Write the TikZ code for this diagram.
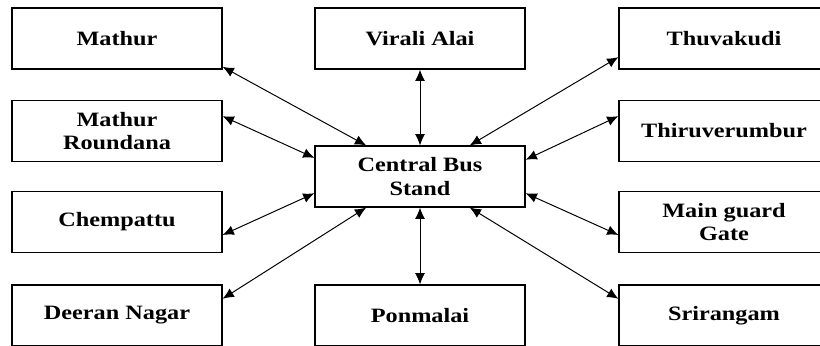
\documentclass[tikz,border=0pt]{standalone}
\usepackage{fontspec}
\newfontfamily\placefont{Liberation Serif}[FakeStretch=1.19]
\usetikzlibrary{arrows.meta}

\begin{document}
\begin{tikzpicture}[
        x=0.025cm, y=-0.025cm,
        >={Latex[length=8pt,width=7pt]},
        stop/.style={rectangle, draw, line width=0.8pt, minimum width=5.25cm, minimum height=1.525cm, align=center, inner sep=0pt, font=\placefont\bfseries\fontsize{14.5}{17}\selectfont},
        link/.style={<->, line width=0.7pt},
    ]
        \useasboundingbox (0,0) rectangle (820,345);

        % Central bus stand
        \node[stop] (cbs) at (420,176.5) {Central Bus\\Stand};

        % Left column
        \node[stop] (mathur) at (117,38.5) {Mathur};
        \node[stop] (roundana) at (117,131) {Mathur\\Roundana};
        \node[stop] (chempattu) at (117,222) {Chempattu};
        \node[stop] (deeran) at (117,315.5) {Deeran Nagar};

        % Middle column
        \node[stop] (virali) at (420,38.5) {Virali Alai};
        \node[stop] (ponmalai) at (420,315.5) {Ponmalai};

        % Right column
        \node[stop] (thuvakudi) at (724,38.5) {Thuvakudi};
        \node[stop] (thiru) at (724,131) {Thiruverumbur};
        \node[stop] (mainguard) at (724,222) {Main guard\\Gate};
        \node[stop] (srirangam) at (724,315.5) {Srirangam};

        % Arrows
        \draw[link] (mathur.-15) -- (cbs.150);
        \draw[link] (roundana.8) -- (cbs.170);
        \draw[link] (chempattu.-7) -- (cbs.189);
        \draw[link] (deeran.9) -- (cbs.210);
        \draw[link] (virali.south) -- (cbs.north);
        \draw[link] (cbs.south) -- (ponmalai.north);
        \draw[link] (cbs.32) -- (thuvakudi.190);
        \draw[link] (cbs.9) -- (thiru.172);
        \draw[link] (cbs.-9) -- (mainguard.187);
        \draw[link] (cbs.-32) -- (srirangam.171);

    \end{tikzpicture}
\end{document}
